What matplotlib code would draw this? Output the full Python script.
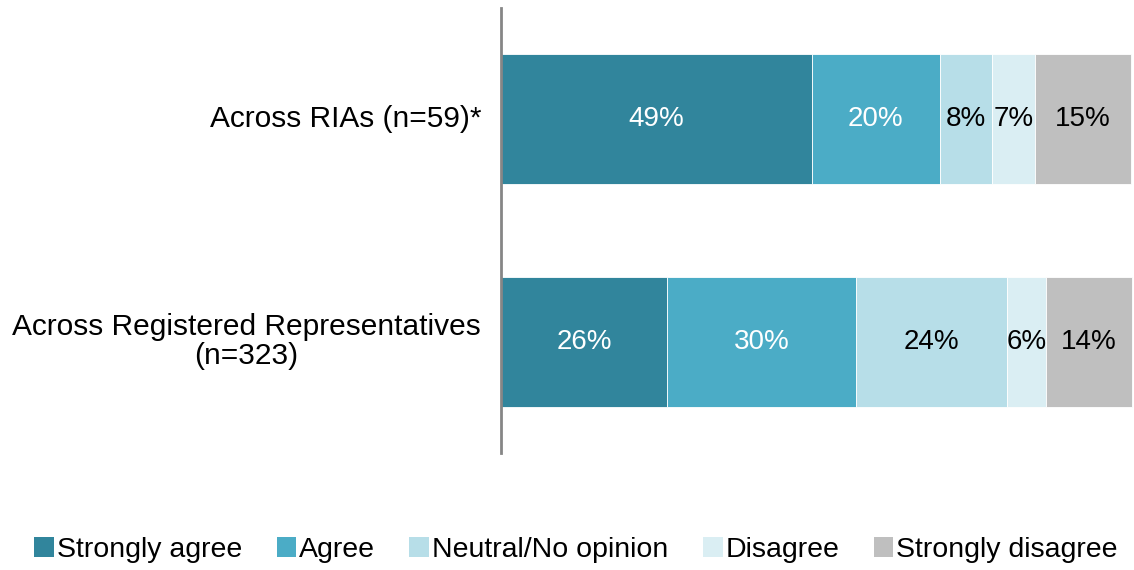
import matplotlib
matplotlib.use("Agg")
import matplotlib.pyplot as plt
from matplotlib.patches import Patch

plt.rcParams['font.family'] = ['Liberation Sans', 'DejaVu Sans']

categories = ["Across RIAs (n=59)*", "Across Registered Representatives\n(n=323)"]
series_names = ["Strongly agree", "Agree", "Neutral/No opinion", "Disagree", "Strongly disagree"]
strongly_agree = [49.3, 26.4]
agree = [20.3, 29.9]
neutral = [8.4, 24.0]
disagree = [6.7, 6.2]
strongly_disagree = [15.3, 13.6]

colors = ["#31859C", "#4BACC6", "#B7DEE8", "#DAEEF3", "#BFBFBF"]
text_colors = ["white", "white", "black", "black", "black"]

series = [strongly_agree, agree, neutral, disagree, strongly_disagree]

fig = plt.figure(figsize=(11.34, 5.70), dpi=100)
ax = fig.add_axes([501/1134, 1 - 453/570, (1133-501)/1134, (453-8)/570])

y = list(range(len(categories)))
left = [0.0] * len(categories)
for vals, c, tc in zip(series, colors, text_colors):
    bars = ax.barh(y, vals, left=left, height=0.585, color=c, edgecolor="white", linewidth=0.6)
    for b, v, l in zip(bars, vals, left):
        ax.text(l + v / 2, b.get_y() + b.get_height() / 2, f"{v:.0f}%",
                ha="center", va="center", color=tc, fontsize=20)
    left = [l + v for l, v in zip(left, vals)]

ax.set_xlim(0, 100.3)
ax.set_ylim(1.5, -0.5)
ax.set_xticks([])
ax.set_yticks([])
for s in ["top", "right", "bottom"]:
    ax.spines[s].set_visible(False)
ax.spines["left"].set_color("#868686")
ax.spines["left"].set_linewidth(2)

for yi, cat in zip(y, categories):
    ax.annotate(cat, xy=(0, yi), xycoords=("axes fraction", "data"),
                xytext=(-20, 0), textcoords="offset pixels",
                ha="right", va="center", multialignment="center", fontsize=21.5,
                linespacing=1.05)

handles = [Patch(facecolor=c, edgecolor="none") for c in colors]
fig.legend(handles, series_names, loc="center", bbox_to_anchor=(0.508, 1 - 550/570),
           ncol=5, frameon=False, fontsize=20.5, handlelength=0.7, handleheight=0.7,
           handletextpad=0.1, columnspacing=1.2)

fig.savefig("out.png", dpi=100)
